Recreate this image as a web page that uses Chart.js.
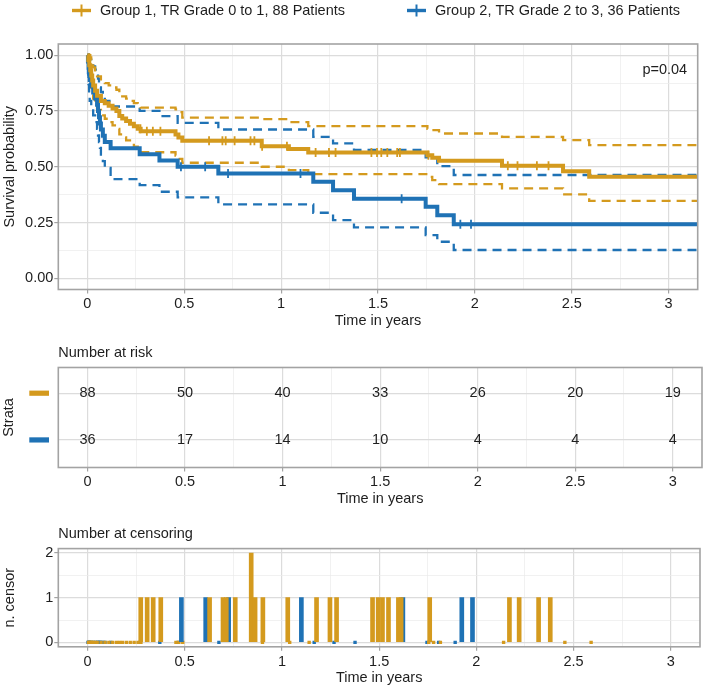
<!DOCTYPE html>
<html><head><meta charset="utf-8">
<script src="https://cdn.jsdelivr.net/npm/chart.js@4/dist/chart.umd.min.js"></script>
<style>
html,body{margin:0;padding:0;background:#fff;}
#wrap{position:relative;width:704px;height:687px;overflow:hidden;background:#fff;}
canvas{position:absolute;left:0;}
</style></head><body>
<div id="wrap">
<canvas id="km" width="704" height="330" style="top:0px"></canvas>
<canvas id="risk" width="704" height="185" style="top:330px"></canvas>
<canvas id="cens" width="704" height="172" style="top:515px"></canvas>
</div>
<script>
// ---------------- DATA ----------------
const groupNames = ['Group 1, TR Grade 0 to 1, 88 Patients', 'Group 2, TR Grade 2 to 3, 36 Patients'];

const timeG1  = [0, 0.005, 0.01, 0.015, 0.02, 0.025, 0.03, 0.04, 0.05, 0.07, 0.09, 0.11, 0.13, 0.15, 0.165, 0.18, 0.2, 0.22, 0.24, 0.26, 0.275, 0.455, 0.47, 0.49, 0.9, 1.04, 1.14, 1.755, 1.78, 1.815, 2.14, 2.455, 2.59, 3.15];
const survG1  = [1, 0.977, 0.955, 0.932, 0.909, 0.886, 0.864, 0.841, 0.818, 0.795, 0.784, 0.773, 0.761, 0.75, 0.727, 0.716, 0.705, 0.693, 0.682, 0.67, 0.659, 0.645, 0.631, 0.617, 0.592, 0.58, 0.564, 0.552, 0.54, 0.527, 0.504, 0.48, 0.455, 0.455];
const upperG1 = [1, 1, 1, 0.99, 0.975, 0.96, 0.945, 0.925, 0.905, 0.885, 0.875, 0.865, 0.855, 0.845, 0.825, 0.815, 0.805, 0.795, 0.785, 0.775, 0.765, 0.757, 0.745, 0.72, 0.713, 0.70, 0.682, 0.67, 0.664, 0.649, 0.634, 0.619, 0.597, 0.597];
const lowerG1 = [1, 0.945, 0.91, 0.88, 0.855, 0.83, 0.805, 0.78, 0.755, 0.73, 0.715, 0.70, 0.685, 0.67, 0.645, 0.632, 0.618, 0.604, 0.59, 0.578, 0.565, 0.55, 0.535, 0.518, 0.50, 0.485, 0.467, 0.455, 0.44, 0.422, 0.403, 0.376, 0.347, 0.347];

const timeG2  = [0, 0.003, 0.006, 0.009, 0.012, 0.02, 0.03, 0.04, 0.05, 0.055, 0.06, 0.065, 0.07, 0.08, 0.09, 0.12, 0.27, 0.372, 0.466, 0.676, 1.166, 1.268, 1.376, 1.746, 1.806, 1.891, 3.15];
const survG2  = [1, 0.972, 0.944, 0.917, 0.889, 0.861, 0.833, 0.806, 0.778, 0.75, 0.722, 0.694, 0.667, 0.639, 0.611, 0.583, 0.556, 0.528, 0.5, 0.47, 0.433, 0.395, 0.357, 0.321, 0.283, 0.242, 0.242];
const upperG2 = [1, 1, 1, 1, 0.98, 0.965, 0.95, 0.935, 0.915, 0.895, 0.875, 0.855, 0.835, 0.815, 0.795, 0.77, 0.75, 0.727, 0.697, 0.667, 0.634, 0.605, 0.575, 0.542, 0.503, 0.463, 0.463];
const lowerG2 = [1, 0.92, 0.87, 0.83, 0.795, 0.76, 0.73, 0.70, 0.67, 0.64, 0.61, 0.585, 0.555, 0.525, 0.495, 0.445, 0.418, 0.388, 0.363, 0.331, 0.294, 0.261, 0.228, 0.194, 0.164, 0.127, 0.127];

const censorTimeG1  = [0.274, 0.307, 0.338, 0.377, 0.628, 0.697, 0.714, 0.76, 0.842, 0.862, 0.902, 1.03, 1.178, 1.247, 1.281, 1.466, 1.495, 1.517, 1.548, 1.599, 1.613, 1.76, 2.17, 2.22, 2.32, 2.38];
const censorCountG1 = [1, 1, 1, 1, 1, 1, 1, 1, 2, 1, 1, 1, 1, 1, 1, 1, 1, 1, 1, 1, 1, 1, 1, 1, 1, 1];
const censorTimeG2  = [0.483, 0.608, 0.726, 1.10, 1.622, 1.925, 1.98];
const censorCountG2 = [1, 1, 1, 1, 1, 1, 1];

const riskTimes = [0, 0.5, 1, 1.5, 2, 2.5, 3];
const riskG1 = [88, 50, 40, 33, 26, 20, 19];
const riskG2 = [36, 17, 14, 10, 4, 4, 4];

const xTickLabels = ['0', '0.5', '1', '1.5', '2', '2.5', '3'];
const yTickLabels = ['0.00', '0.25', '0.50', '0.75', '1.00'];
const censorTickLabels = ['0', '1', '2'];
const pValueText = 'p=0.04';

// ---------------- STYLE ----------------
const ORANGE = '#D49A1E';
const BLUE = '#1F72B5';
const COLORS = [ORANGE, BLUE];
const FAM = '"Liberation Sans", Arial, Helvetica, sans-serif';
const FS = 14.5;
const TXT = '#1e1e1e';
const MAJ = '#DCDCDC', MIN = '#EBEBEB', BORDER = '#A3A3A3';

function near(v, step) { return Math.abs(v / step - Math.round(v / step)) < 1e-6; }
function stepAt(ts, ss, t) { let v = ss[0]; for (let i = 0; i < ts.length; i++) if (ts[i] <= t) v = ss[i]; return v; }
function pts(ts, vs) { return ts.map((t, i) => ({x: t, y: vs[i]})); }

function gridOpts(step) {
  return {
    color: c => (c.tick && near(c.tick.value, step)) ? MAJ : MIN,
    lineWidth: c => (c.tick && near(c.tick.value, step)) ? 1.2 : 0.7,
    tickColor: c => (c.tick && near(c.tick.value, step)) ? BORDER : 'rgba(0,0,0,0)',
    tickWidth: 1.2, tickLength: 4, drawTicks: true
  };
}
function xAxis(fitH, titlePadBottom) {
  return {
    type: 'linear', min: -0.15, max: 3.15, offset: false,
    afterFit: s => { s.height = fitH; },
    ticks: {stepSize: 0.25, includeBounds: false, autoSkip: false, maxRotation: 0, minRotation: 0,
      padding: 2, color: TXT, font: {family: FAM, size: FS},
      callback: v => near(v, 0.5) ? xTickLabels[Math.round(v / 0.5)] : ''},
    grid: Object.assign(gridOpts(0.5), {offset: false}),
    border: {display: false},
    title: {display: true, text: 'Time in years', color: TXT, font: {family: FAM, size: FS}, padding: {top: 0, bottom: titlePadBottom}}
  };
}
const borderPlugin = {
  id: 'panelBorder',
  afterDraw(chart) {
    const a = chart.chartArea, ctx = chart.ctx;
    ctx.save(); ctx.strokeStyle = BORDER; ctx.lineWidth = 1.6;
    ctx.strokeRect(a.left, a.top, a.right - a.left, a.bottom - a.top);
    ctx.restore();
  }
};

// ---------------- KM CHART ----------------
const legendPlugin = {
  id: 'kmLegend',
  afterDraw(chart) {
    const ctx = chart.ctx;
    const starts = [72, 407];
    ctx.save();
    ctx.font = FS + 'px ' + FAM; ctx.textBaseline = 'alphabetic'; ctx.fillStyle = TXT;
    groupNames.forEach((name, i) => {
      const x0 = starts[i], yc = 10.5;
      ctx.strokeStyle = COLORS[i]; ctx.lineWidth = 3.4; ctx.lineCap = 'butt';
      ctx.beginPath(); ctx.moveTo(x0, yc); ctx.lineTo(x0 + 19, yc); ctx.stroke();
      ctx.lineWidth = 2; ctx.beginPath(); ctx.moveTo(x0 + 9.5, yc - 6); ctx.lineTo(x0 + 9.5, yc + 6); ctx.stroke();
      ctx.fillText(name, x0 + 28, 14.5);
    });
    ctx.restore();
  }
};
const pvalPlugin = {
  id: 'pval',
  afterDraw(chart) {
    const ctx = chart.ctx, xs = chart.scales.x, ys = chart.scales.y;
    ctx.save(); ctx.font = FS + 'px ' + FAM; ctx.fillStyle = TXT;
    ctx.textAlign = 'center'; ctx.textBaseline = 'middle';
    ctx.fillText(pValueText, xs.getPixelForValue(2.98), ys.getPixelForValue(0.935));
    ctx.restore();
  }
};

const solid = (d, c) => ({data: d, borderColor: c, borderWidth: 4, pointRadius: 0, stepped: 'before', fill: false, borderCapStyle: 'butt', borderJoinStyle: 'miter'});
const dashed = (d, c) => ({data: d, borderColor: c, borderWidth: 2.3, borderDash: [9, 6], pointRadius: 0, stepped: 'before', fill: false, borderCapStyle: 'butt'});
const ticksDs = (ts, tt, ss, c) => ({type: 'scatter', data: ts.map(t => ({x: t, y: stepAt(tt, ss, t)})), showLine: false,
  pointStyle: 'line', rotation: 90, pointRadius: 4.5, pointBorderWidth: 1.8, borderColor: c, backgroundColor: c, pointBorderColor: c});

new Chart(document.getElementById('km'), {
  type: 'line',
  data: {datasets: [
    ticksDs(censorTimeG1, timeG1, survG1, ORANGE),
    ticksDs(censorTimeG2, timeG2, survG2, BLUE),
    solid(pts(timeG1, survG1), ORANGE),
    solid(pts(timeG2, survG2), BLUE),
    dashed(pts(timeG1, upperG1), ORANGE),
    dashed(pts(timeG1, lowerG1), ORANGE),
    dashed(pts(timeG2, upperG2), BLUE),
    dashed(pts(timeG2, lowerG2), BLUE)
  ]},
  options: {
    responsive: false, animation: false, devicePixelRatio: 1,
    layout: {padding: {top: 44, right: 2, left: 0, bottom: 0}},
    plugins: {legend: {display: false}, tooltip: {enabled: false}},
    scales: {
      x: xAxis(40.5, 0),
      y: {
        type: 'linear', min: -0.05, max: 1.05,
        afterFit: s => { s.width = 58.3; },
        ticks: {stepSize: 0.125, includeBounds: false, autoSkip: false, padding: 1, color: TXT, font: {family: FAM, size: FS},
          callback: v => near(v, 0.25) ? yTickLabels[Math.round(v / 0.25)] : ''},
        grid: gridOpts(0.25),
        border: {display: false},
        title: {display: true, text: 'Survival probability', color: TXT, font: {family: FAM, size: FS}, padding: {top: 1, bottom: 0}}
      }
    }
  },
  plugins: [borderPlugin, legendPlugin, pvalPlugin]
});

// ---------------- RISK TABLE ----------------
const rowY = [2, 1];
const riskTextPlugin = {
  id: 'riskText',
  afterDraw(chart) {
    const ctx = chart.ctx;
    ctx.save(); ctx.font = FS + 'px ' + FAM; ctx.fillStyle = TXT; ctx.textAlign = 'center'; ctx.textBaseline = 'middle';
    chart.data.datasets.forEach((ds, di) => {
      const meta = chart.getDatasetMeta(di);
      meta.data.forEach((el, j) => ctx.fillText(String(ds.counts[j]), el.x, el.y));
    });
    const ys = chart.scales.y;
    rowY.forEach((r, i) => {
      ctx.fillStyle = COLORS[i];
      const y = ys.getPixelForValue(r);
      ctx.fillRect(29.3, y - 2.6, 19.7, 5.2);
    });
    ctx.restore();
  }
};
new Chart(document.getElementById('risk'), {
  type: 'scatter',
  data: {datasets: [
    {label: groupNames[0], data: riskTimes.map(t => ({x: t, y: rowY[0]})), counts: riskG1, pointRadius: 0},
    {label: groupNames[1], data: riskTimes.map(t => ({x: t, y: rowY[1]})), counts: riskG2, pointRadius: 0}
  ]},
  options: {
    responsive: false, animation: false, devicePixelRatio: 1,
    layout: {padding: {top: 0, right: 2, left: 0, bottom: 0}},
    plugins: {legend: {display: false}, tooltip: {enabled: false},
      title: {display: true, text: 'Number at risk', align: 'start', fullSize: false, color: TXT,
        font: {family: FAM, size: FS, weight: 'normal'}, padding: {top: 14, bottom: 6.1}}},
    scales: {
      x: xAxis(47.5, 7.3),
      y: {
        type: 'linear', min: 0.41, max: 2.55,
        afterFit: s => { s.width = 58.3; },
        ticks: {stepSize: 1, includeBounds: false, autoSkip: false, callback: () => '', font: {family: FAM, size: FS}},
        grid: {color: MAJ, lineWidth: 1.2, drawTicks: false},
        border: {display: false},
        title: {display: true, text: 'Strata', color: TXT, font: {family: FAM, size: FS}, padding: {top: 0, bottom: 0}}
      }
    }
  },
  plugins: [borderPlugin, riskTextPlugin]
});

// ---------------- CENSOR PLOT ----------------
const eventTimesG1 = timeG1.slice(1, -1);
const eventTimesG2 = timeG2.slice(1, -1);
const zeroMarks = (ts, c) => ({type: 'scatter', data: ts.map(t => ({x: t, y: 0})), pointStyle: 'rect', pointRadius: 2.4,
  pointBorderWidth: 0, backgroundColor: c, borderColor: c, showLine: false});
new Chart(document.getElementById('cens'), {
  type: 'bar',
  data: {datasets: [
    {type: 'bar', data: pts(censorTimeG1, censorCountG1), backgroundColor: ORANGE, barThickness: 4, grouped: false, borderWidth: 0},
    {type: 'bar', data: pts(censorTimeG2, censorCountG2), backgroundColor: BLUE, barThickness: 4, grouped: false, borderWidth: 0},
    zeroMarks(eventTimesG1, ORANGE),
    zeroMarks(eventTimesG2, BLUE)
  ]},
  options: {
    responsive: false, animation: false, devicePixelRatio: 1,
    layout: {padding: {top: 0, right: 2, left: 0, bottom: 0}},
    plugins: {legend: {display: false}, tooltip: {enabled: false},
      title: {display: true, text: 'Number at censoring', align: 'start', fullSize: false, color: TXT,
        font: {family: FAM, size: FS, weight: 'normal'}, padding: {top: 10.1, bottom: 6.1}}},
    scales: {
      x: xAxis(40.2, 0),
      y: {
        type: 'linear', min: -0.1, max: 2.1,
        afterFit: s => { s.width = 58.3; },
        ticks: {stepSize: 0.5, includeBounds: false, autoSkip: false, padding: 1, color: TXT, font: {family: FAM, size: FS},
          callback: v => near(v, 1) ? censorTickLabels[Math.round(v)] : ''},
        grid: gridOpts(1),
        border: {display: false},
        title: {display: true, text: 'n. censor', color: TXT, font: {family: FAM, size: FS}, padding: {top: 1, bottom: 0}}
      }
    }
  },
  plugins: [borderPlugin]
});
</script>
</body></html>
